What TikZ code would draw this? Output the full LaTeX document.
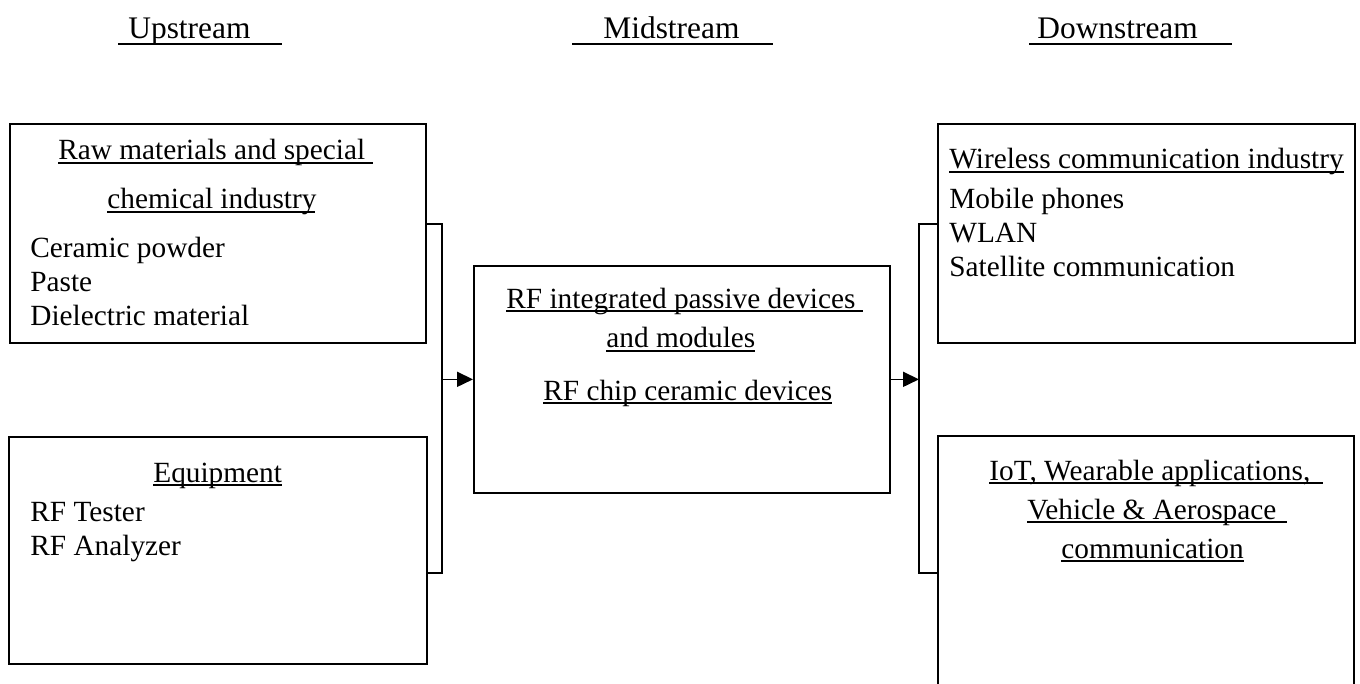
\documentclass[tikz,border=0pt]{standalone}
\usepackage{fontspec}
\setmainfont{Liberation Serif}
\usetikzlibrary{arrows.meta}
% underline helpers: lead kern, total underline width, text
\newcommand\ulw[3]{\leavevmode\rlap{\kern-#1\rule[-2.1pt]{#2}{1pt}}#3}
\newcommand\ulh[3]{\leavevmode\rlap{\kern-#1\rule[-3.0pt]{#2}{1.1pt}}#3}
\begin{document}
\begin{tikzpicture}[x=0.5pt,y=-0.5pt,
  box/.style={draw, line width=0.85pt, inner sep=0pt, anchor=north west},
  txt/.style={inner sep=0pt, anchor=base west, font=\fontsize{14.65pt}{17pt}\selectfont},
  hdr/.style={inner sep=0pt, anchor=base west, font=\fontsize{15.7pt}{18pt}\selectfont},
  conn/.style={line width=0.85pt},
  arr/.style={conn, -{Triangle[length=8pt,width=7.5pt]}}]
\useasboundingbox (0,0) rectangle (1360,684);
\clip (0,0) rectangle (1360,684);

% headers
\node[hdr] (hup)   at (128,39)  {\ulh{5pt}{82pt}{Upstream}};
\node[hdr] (hmid)  at (603,39)  {\ulh{15.5pt}{100.5pt}{Midstream}};
\node[hdr] (hdown) at (1037,39) {\ulh{4pt}{101.5pt}{Downstream}};

% boxes
\node[box, minimum width=208pt,   minimum height=109.5pt] (raw)   at (9,123)   {};
\node[box, minimum width=209pt,   minimum height=113.5pt] (equip) at (8,436)   {};
\node[box, minimum width=208pt,   minimum height=113.5pt] (mid)   at (473,265) {};
\node[box, minimum width=208.5pt, minimum height=109.5pt] (wire)  at (937,123) {};
\node[box, minimum width=208pt,   minimum height=140pt]   (iot)   at (937,435) {};

% raw materials box
\node[txt] (raw1) at (58,160)  {\ulw{0pt}{157.5pt}{Raw materials and special}};
\node[txt] (raw2) at (107,209) {\ulw{0pt}{104pt}{chemical industry}};
\node[txt] (raw3) at (30,258)  {Ceramic powder};
\node[txt] (raw4) at (30,292)  {Paste};
\node[txt] (raw5) at (30,326)  {Dielectric material};

% equipment box
\node[txt] (eq1) at (153,482) {\ulw{0pt}{64.5pt}{Equipment}};
\node[txt] (eq2) at (30,521)  {RF Tester};
\node[txt] (eq3) at (30,555)  {RF Analyzer};

% middle box
\node[txt] (mid1) at (506,308) {\ulw{0pt}{178.5pt}{RF integrated passive devices}};
\node[txt] (mid2) at (606,348) {\ulw{0pt}{74.5pt}{and modules}};
\node[txt] (mid3) at (543,400) {\ulw{0pt}{144.5pt}{RF chip ceramic devices}};

% wireless box
\node[txt] (w1) at (949,169) {\ulw{0pt}{197.5pt}{Wireless communication industry}};
\node[txt] (w2) at (949,209) {Mobile phones};
\node[txt] (w3) at (949,243) {WLAN};
\node[txt] (w4) at (949,277) {Satellite communication};

% IoT box
\node[txt] (i1) at (989,480)  {\ulw{0pt}{167pt}{IoT, Wearable applications,}};
\node[txt] (i2) at (1027,519) {\ulw{0pt}{130pt}{Vehicle \& Aerospace}};
\node[txt] (i3) at (1061,558) {\ulw{0pt}{91.5pt}{communication}};

% connectors
\coordinate (lt) at (442,224);
\coordinate (lb) at (442,573);
\draw[conn] (raw.east |- lt) -- (lt) -- (lb) -- (equip.east |- lb);
\draw[arr] (lt |- mid.west) -- (mid.west);

\coordinate (rt) at (919,224);
\coordinate (rb) at (919,573);
\draw[conn] (wire.west |- rt) -- (rt) -- (rb) -- (iot.west |- rb);
\draw[arr] (mid.east) -- (rt |- mid.east);
\end{tikzpicture}
\end{document}
